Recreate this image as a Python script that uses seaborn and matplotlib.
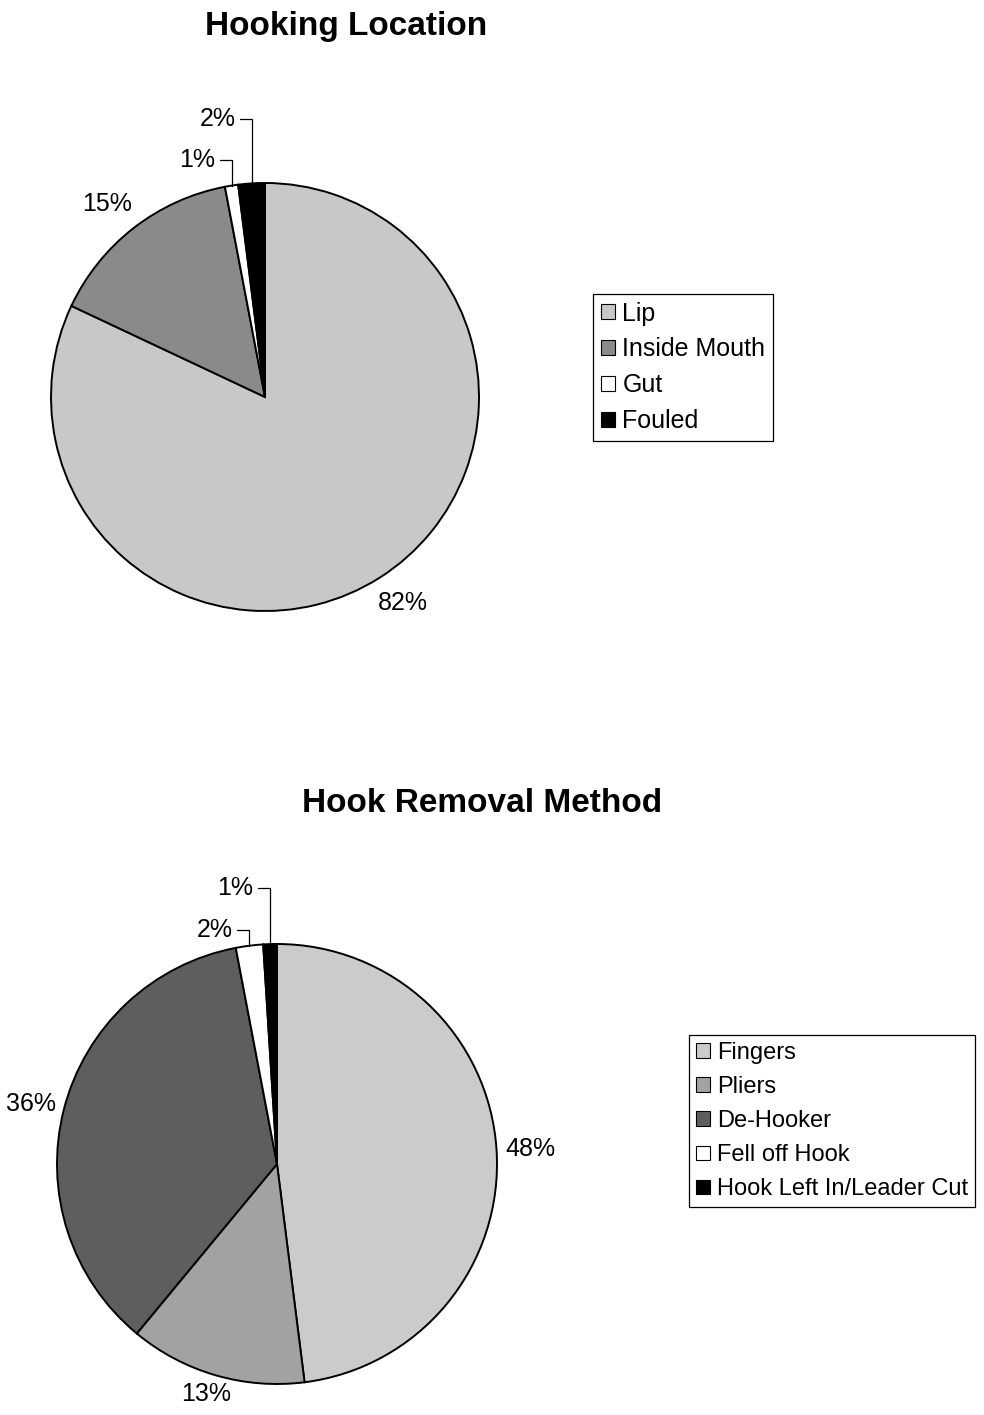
import numpy as np
import matplotlib
matplotlib.use("Agg")
import matplotlib.pyplot as plt
import seaborn as sns
from matplotlib.patches import Patch

# Hooking location shares (%)
location_labels = ["Lip", "Inside Mouth", "Gut", "Fouled"]
location_pct = [82, 15, 1, 2]
location_colors = ["#c8c8c8", "#8a8a8a", "#ffffff", "#000000"]

# Hook removal method shares (%)
removal_labels = ["Fingers", "Pliers", "De-Hooker", "Fell off Hook",
                  "Hook Left In/Leader Cut"]
removal_pct = [48, 13, 36, 2, 1]
removal_colors = ["#cbcbcb", "#a2a2a2", "#5e5e5e", "#ffffff", "#000000"]

sns.set_theme(style="white")
plt.rcParams["font.family"] = ["Liberation Sans", "DejaVu Sans"]
plt.rcParams["text.color"] = "black"

W, H = 984, 1415
fig = plt.figure(figsize=(W / 100, H / 100), dpi=100)
fig.patch.set_facecolor("white")

FS = 18


def add_pie_axes(cx, cy, r, xlim, ylim):
    """Axes whose data unit equals r pixels, pie centre at pixel (cx, cy)."""
    left = cx + xlim[0] * r
    bottom = (H - cy) + ylim[0] * r
    width = (xlim[1] - xlim[0]) * r
    height = (ylim[1] - ylim[0]) * r
    ax = fig.add_axes([left / W, bottom / H, width / W, height / H])
    return ax


def draw_pie(ax, values, colors, xlim, ylim, r_px, gap_px, leader_y):
    wedges, _ = ax.pie(values, colors=colors, startangle=90,
                       counterclock=False,
                       wedgeprops=dict(edgecolor="black", linewidth=1.4))
    ax.set_xlim(*xlim)
    ax.set_ylim(*ylim)
    ax.set_axis_off()
    # half extents of a "NN%" label, in data units
    hw, hh = 24 / r_px, 10 / r_px
    for i, (w, v) in enumerate(zip(wedges, values)):
        mid = np.deg2rad((w.theta1 + w.theta2) / 2)
        c, s = np.cos(mid), np.sin(mid)
        txt = f"{v}%"
        if i in leader_y:
            ly = leader_y[i]
            ex, ey = c, s
            ax.plot([ex - 0.055, ex, ex], [ly, ly, ey], color="black",
                    lw=0.9, solid_joinstyle="miter", clip_on=False)
            ax.text(ex - 0.075, ly, txt, ha="right", va="center",
                    fontsize=FS, color="black")
        else:
            d = 1 + gap_px / r_px
            ax.text(d * c + hw * c, d * s + hh * s, txt, ha="center",
                    va="center", fontsize=FS, color="black")
    return wedges


def add_legend(labels, colors, x, y, fs, spacing):
    handles = [Patch(facecolor=c, edgecolor="black", linewidth=0.8)
               for c in colors]
    leg = fig.legend(handles, labels, loc="upper left",
                     bbox_to_anchor=(x / W, 1 - y / H), frameon=True,
                     fancybox=False, framealpha=1, edgecolor="black",
                     fontsize=fs, handlelength=0.58, handleheight=0.58,
                     handletextpad=0.3, labelspacing=spacing,
                     borderpad=0.3, borderaxespad=0)
    leg.get_frame().set_linewidth(0.9)
    for t in leg.get_texts():
        t.set_color("black")
    return leg


# Top chart: hooking location
xl1, yl1 = (-1.2, 1.2), (-1.4, 1.4)
ax1 = add_pie_axes(265, 397, 214, xl1, yl1)
draw_pie(ax1, location_pct, location_colors, xl1, yl1, 214, 20,
         leader_y={2: 1.107, 3: 1.30})
fig.text(346 / W, 1 - 27 / H, "Hooking Location", ha="center", va="center",
         fontsize=24, fontweight="bold", color="black")
add_legend(location_labels, location_colors, 593, 294, 18, 0.48)

# Bottom chart: hook removal method
xl2, yl2 = (-1.25, 1.25), (-1.15, 1.4)
ax2 = add_pie_axes(277, 1164, 220, xl2, yl2)
draw_pie(ax2, removal_pct, removal_colors, xl2, yl2, 220, 10,
         leader_y={3: 1.064, 4: 1.255})
fig.text(482 / W, 1 - 803 / H, "Hook Removal Method", ha="center",
         va="center", fontsize=24, fontweight="bold", color="black")
add_legend(removal_labels, removal_colors, 689, 1035, 17, 0.51)

fig.savefig("out.png", dpi=100, facecolor="white")
